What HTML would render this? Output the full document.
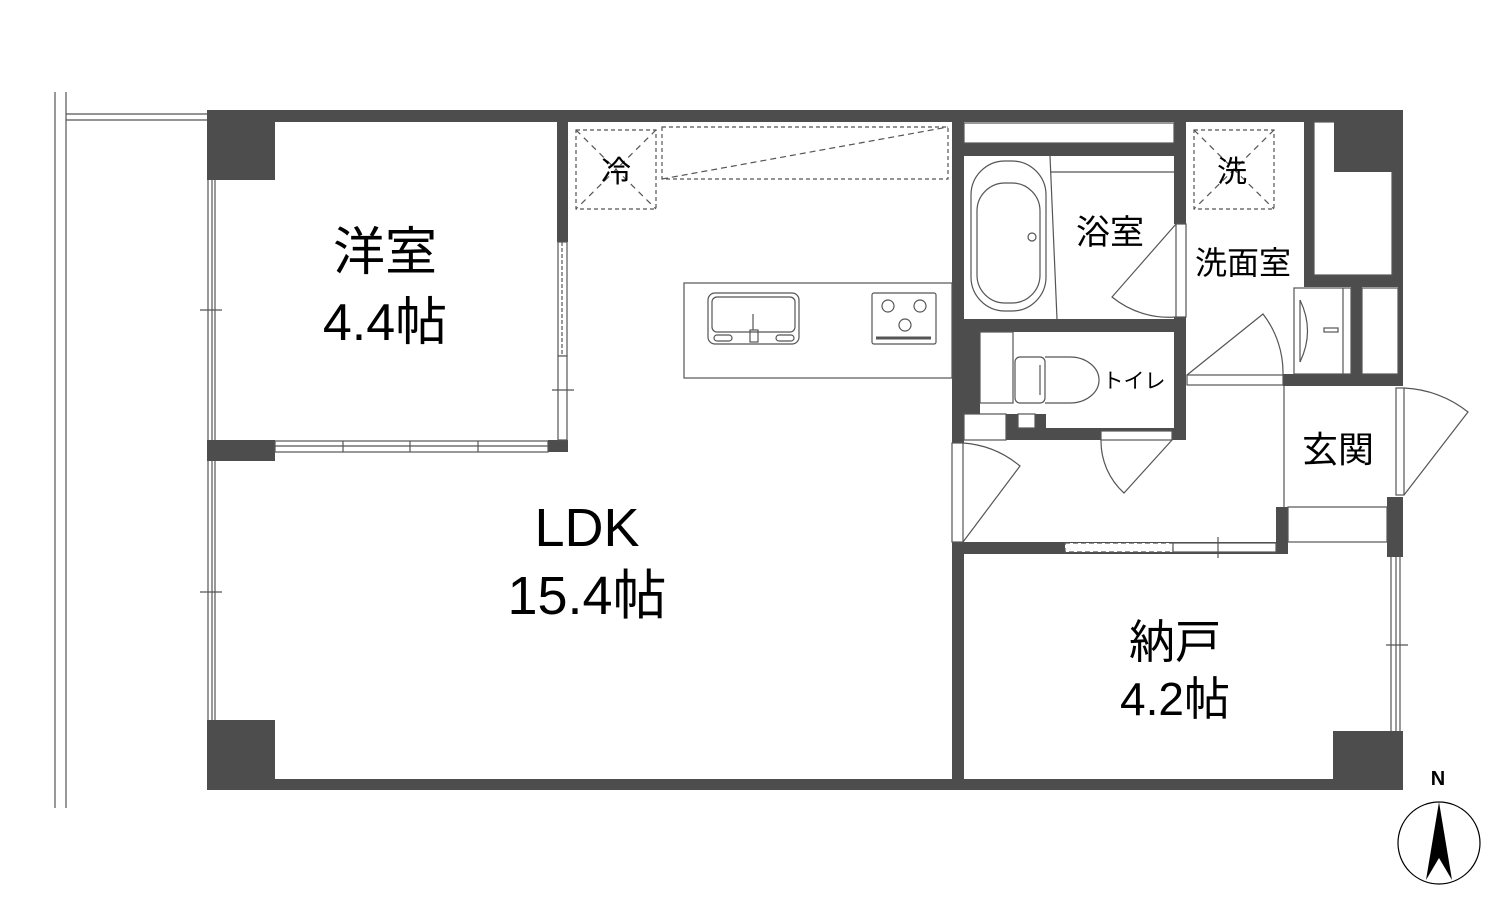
<!DOCTYPE html>
<html><head><meta charset="utf-8"><style>
html,body{margin:0;padding:0;background:#fff;}
svg{display:block;}
text{font-family:"Liberation Sans","Noto Sans CJK JP",sans-serif;fill:#000;}
</style></head><body>
<svg width="1500" height="900" viewBox="0 0 1500 900" xmlns="http://www.w3.org/2000/svg">
<g fill="#4d4d4d">
<rect x="207" y="110" width="1196" height="12"/>
<rect x="207" y="779" width="1196" height="11"/>
<rect x="207" y="110" width="68" height="70"/>
<rect x="207" y="440" width="68" height="21"/>
<rect x="207" y="720" width="68" height="70"/>
<rect x="548" y="440" width="20" height="12"/>
<rect x="557" y="110" width="11" height="132"/>
<rect x="952" y="110" width="12" height="333"/>
<rect x="952" y="542" width="12" height="248"/>
<rect x="1333" y="731" width="70" height="59"/>
<rect x="964" y="143" width="210" height="13"/>
<rect x="1174" y="110" width="12" height="114"/>
<rect x="1174" y="317" width="12" height="123"/>
<rect x="964" y="319" width="210" height="13"/>
<rect x="964" y="332" width="16" height="82"/>
<rect x="1006" y="414" width="40" height="26"/>
<rect x="1006" y="428" width="180" height="12"/>
<rect x="1304" y="110" width="99" height="12"/>
<rect x="1304" y="110" width="10" height="177"/>
<rect x="1392" y="110" width="11" height="177"/>
<rect x="1304" y="275" width="99" height="12"/>
<rect x="1351" y="287" width="11" height="88"/>
<rect x="1398" y="287" width="5" height="88"/>
<rect x="1283" y="374" width="120" height="12"/>
<rect x="1387" y="497" width="16" height="60"/>
<rect x="1276" y="507" width="12" height="46"/>
<rect x="964" y="542" width="324" height="12"/>
</g>
<g fill="#fff" stroke="#555" stroke-width="1.2">
<rect x="964" y="123" width="210" height="20"/>
<rect x="1314" y="122" width="78" height="153"/>
<rect x="1018" y="414" width="17" height="14"/>
<rect x="1065" y="543" width="108" height="9" stroke-dasharray="5 3"/>
<rect x="1173" y="543" width="103" height="9"/>
<rect x="1176" y="224" width="10" height="93"/>
<rect x="1187" y="375" width="96" height="10"/>
<rect x="1101" y="431" width="71" height="9"/>
<rect x="952" y="443" width="11" height="99"/>
<rect x="1396" y="388" width="8" height="107"/>
<rect x="1288" y="507" width="99" height="35"/>
</g>
<rect x="1334" y="110" width="69" height="62" fill="#4d4d4d"/>
<g fill="none" stroke="#555" stroke-width="1.2">
<line x1="55" y1="92" x2="55" y2="808"/><line x1="66" y1="92" x2="66" y2="808"/>
<line x1="66" y1="114" x2="207" y2="114"/><line x1="66" y1="120" x2="207" y2="120"/>
<line x1="208" y1="180" x2="208" y2="440"/><line x1="212" y1="180" x2="212" y2="440"/><line x1="215" y1="180" x2="215" y2="440"/>
<line x1="208" y1="461" x2="208" y2="720"/><line x1="212" y1="461" x2="212" y2="720"/><line x1="215" y1="461" x2="215" y2="720"/>
<line x1="200" y1="310" x2="222" y2="310"/><line x1="200" y1="592" x2="222" y2="592"/>
<rect x="275" y="441" width="273" height="11" fill="#fff"/>
<line x1="275" y1="446" x2="548" y2="446"/><line x1="343" y1="441" x2="343" y2="452"/><line x1="410" y1="441" x2="410" y2="452"/><line x1="478" y1="441" x2="478" y2="452"/>
<rect x="558" y="242" width="9" height="114" fill="#fff"/>
<line x1="562" y1="242" x2="562" y2="356" stroke-dasharray="4 2"/>
<rect x="558" y="356" width="9" height="84" fill="#fff"/>
<line x1="552" y1="390" x2="574" y2="390"/>
<rect x="576" y="130" width="80" height="79" stroke-dasharray="4 3"/>
<line x1="576" y1="130" x2="656" y2="209" stroke-dasharray="6 5"/><line x1="656" y1="130" x2="576" y2="209" stroke-dasharray="6 5"/>
<rect x="662" y="127" width="286" height="52" stroke-dasharray="4 3"/>
<line x1="662" y1="179" x2="948" y2="127" stroke-dasharray="6 4"/>
<rect x="684" y="283" width="268" height="95"/>
<rect x="708" y="293" width="91" height="51" rx="7"/>
<rect x="712" y="297" width="83" height="35" rx="5"/>
<rect x="714" y="335" width="18" height="6" rx="3"/><rect x="776" y="335" width="18" height="6" rx="3"/>
<rect x="750" y="330" width="8" height="12"/><line x1="753" y1="314" x2="753" y2="330"/>
<rect x="872" y="293" width="64" height="51" rx="2"/>
<circle cx="888" cy="306" r="6"/><circle cx="920" cy="306" r="6"/><circle cx="905" cy="325" r="6"/>
<line x1="876" y1="338" x2="931" y2="338" stroke-width="3"/>
<rect x="971" y="161" width="75" height="150" rx="34"/>
<rect x="977" y="183" width="63" height="120" rx="28"/>
<circle cx="1032" cy="237" r="4"/>
<line x1="1050" y1="156" x2="1057" y2="319"/>
<line x1="1050" y1="172" x2="1174" y2="172"/>
<path d="M1176 224 L1112 297 A90 90 0 0 0 1176 317"/>
<rect x="1194" y="130" width="80" height="79" stroke-dasharray="4 3"/>
<line x1="1194" y1="130" x2="1274" y2="209" stroke-dasharray="6 5"/><line x1="1274" y1="130" x2="1194" y2="209" stroke-dasharray="6 5"/>
<rect x="1294" y="288" width="57" height="86"/>
<line x1="1343" y1="288" x2="1343" y2="374"/>
<path d="M1300 300 Q1315 331 1300 362"/><line x1="1300" y1="300" x2="1300" y2="362"/>
<rect x="1324" y="328" width="14" height="4"/>
<rect x="1362" y="288" width="36" height="86"/>
<path d="M1187 375 L1263 314 A96 96 0 0 1 1283 375"/>
<rect x="980" y="332" width="33" height="71"/>
<rect x="1015" y="357" width="30" height="46" rx="5"/>
<path d="M1045 357 H1070 A29 23 0 0 1 1070 403 H1045"/>
<line x1="1040" y1="365" x2="1040" y2="395"/>
<rect x="964" y="414" width="42" height="26" fill="#fff"/>
<path d="M1172 440 L1124 493 A70 70 0 0 1 1101 440"/>
<path d="M963 542 L1020 466 A100 100 0 0 0 963 443"/>
<line x1="1284" y1="386" x2="1284" y2="507"/>
<path d="M1404 495 L1468 412 A110 110 0 0 0 1404 388"/>
<line x1="1391" y1="557" x2="1391" y2="731"/><line x1="1396" y1="557" x2="1396" y2="731"/><line x1="1400" y1="557" x2="1400" y2="731"/>
<line x1="1386" y1="645" x2="1408" y2="645"/>
<line x1="1218" y1="537" x2="1218" y2="558"/>
<circle cx="1439" cy="843" r="41" stroke="#000"/>
</g>
<path d="M1439 802 L1452 880 L1439 858 L1426 880 Z" fill="#000"/>
<text x="1438" y="785" font-size="20" font-weight="bold" text-anchor="middle">N</text>
<g text-anchor="middle">
<text x="385" y="270" font-size="52">洋室</text>
<text x="385" y="340" font-size="52">4.4帖</text>
<text x="587" y="546" font-size="54">LDK</text>
<text x="587" y="614" font-size="54">15.4帖</text>
<text x="1175" y="658" font-size="46">納戸</text>
<text x="1175" y="715" font-size="46">4.2帖</text>
<text x="1110" y="244" font-size="34">浴室</text>
<text x="1243" y="274" font-size="32">洗面室</text>
<text x="1338" y="462" font-size="36">玄関</text>
<text x="1134" y="388" font-size="21">トイレ</text>
<text x="616" y="182" font-size="30">冷</text>
<text x="1232" y="182" font-size="30">洗</text>
</g>
</svg>
</body></html>
